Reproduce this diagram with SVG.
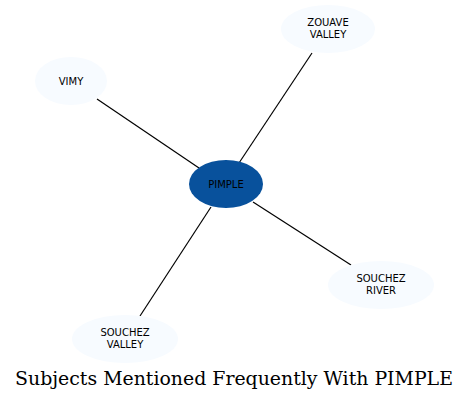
<svg xmlns="http://www.w3.org/2000/svg" width="469" height="401" viewBox="0 0 469 401">
<style>
.n{fill:#f7fbff;stroke:none}
.c{fill:#08519c;stroke:none}
.t{font-family:"DejaVu Sans",sans-serif;font-size:10px;text-anchor:middle;fill:#000}
.e{stroke:#000;stroke-width:1.2;fill:none}
.title{font-family:"DejaVu Serif",serif;font-size:18.9px;text-anchor:middle;fill:#000}
</style>
<rect width="469" height="401" fill="#fff"/>
<g id="edges">
<line class="e" x1="239" y1="163" x2="312" y2="53"/>
<line class="e" x1="97" y1="99" x2="199" y2="168"/>
<line class="e" x1="253" y1="202" x2="351" y2="265"/>
<line class="e" x1="211" y1="207" x2="140" y2="316"/>
</g>
<g id="node-pimple">
<ellipse class="c" cx="226" cy="184" rx="37" ry="24"/>
<text class="t" x="226" y="187.5">PIMPLE</text>
</g>
<g id="node-zouave">
<ellipse class="n" cx="328" cy="29" rx="47" ry="24"/>
<text class="t" x="328" y="26">ZOUAVE</text>
<text class="t" x="328" y="38">VALLEY</text>
</g>
<g id="node-vimy">
<ellipse class="n" cx="71" cy="81" rx="36" ry="24"/>
<text class="t" x="71" y="84.5">VIMY</text>
</g>
<g id="node-souchez-river">
<ellipse class="n" cx="381" cy="285" rx="53" ry="24"/>
<text class="t" x="381" y="282">SOUCHEZ</text>
<text class="t" x="381" y="294">RIVER</text>
</g>
<g id="node-souchez-valley">
<ellipse class="n" cx="125" cy="339" rx="53" ry="24"/>
<text class="t" x="125" y="336">SOUCHEZ</text>
<text class="t" x="125" y="348">VALLEY</text>
</g>
<text class="title" x="234" y="385">Subjects Mentioned Frequently With PIMPLE</text>
</svg>
